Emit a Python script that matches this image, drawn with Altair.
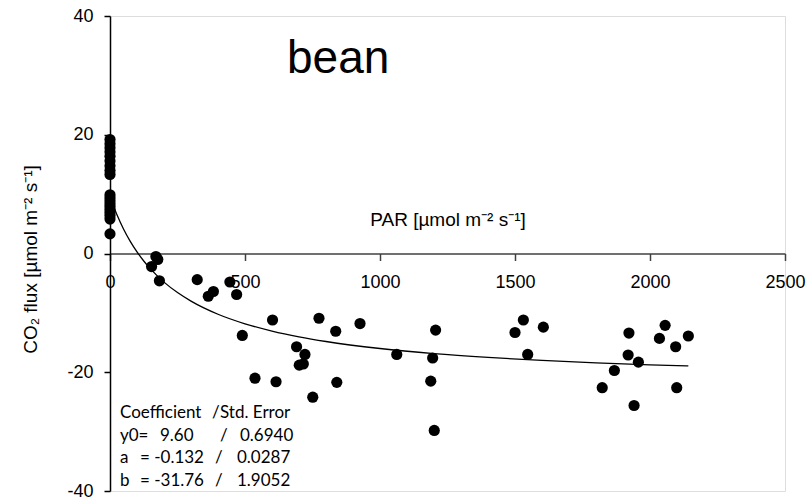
import altair as alt
import pandas as pd

# ---- data ----
par = [0] * 19 + [
    154, 170, 177, 183, 323, 364, 383, 444, 469, 490, 537, 602, 615, 691, 701,
    716, 722, 751, 774, 836, 840, 926, 1062, 1188, 1195, 1201, 1206, 1500, 1531,
    1547, 1605, 1823, 1868, 1919, 1922, 1941, 1957, 2035, 2056, 2095, 2099, 2142,
]
flux = [
    19.2, 18.5, 17.8, 17.1, 16.4, 15.6, 14.8, 14.0, 13.3,
    9.9, 9.4, 8.9, 8.4, 7.9, 7.4, 6.9, 6.4, 5.8, 3.3,
    -2.2, -0.5, -1.0, -4.6, -4.4, -7.2, -6.4, -4.8, -6.9, -13.8, -21.0, -11.2,
    -21.6, -15.7, -18.8, -18.6, -17.0, -24.2, -10.9, -13.1, -21.7, -11.8, -17.0,
    -21.5, -17.6, -29.8, -12.9, -13.3, -11.2, -17.0, -12.4, -22.6, -19.7, -17.1,
    -13.4, -25.6, -18.3, -14.3, -12.1, -15.7, -22.6, -13.9,
]
curve_par = [0, 10, 25, 50, 75, 100, 125, 150, 200, 250, 300, 400, 500, 600,
             700, 800, 1000, 1200, 1400, 1600, 1800, 2000, 2142]
curve_flux = [9.6, 8.33, 6.61, 4.14, 2.05, 0.28, -1.26, -2.60, -4.82, -6.58,
              -8.02, -10.23, -11.84, -13.07, -14.04, -14.82, -16.00, -16.86,
              -17.50, -18.01, -18.42, -18.75, -18.94]
x_ticks = [0, 500, 1000, 1500, 2000, 2500]
y_ticks = [-40, -20, 0, 20, 40]
panel_title = "bean"
x_title = "PAR [µmol m⁻² s⁻¹]"
y_title = "CO₂ flux [µmol m⁻² s⁻¹]"
coef_texts = ["Coefficient", "/", "Std. Error",
              "y0=", "9.60", "/", "0.6940",
              "a", "= -0.132", "/", "0.0287",
              "b", "= -31.76", "/", "1.9052"]

# ---- layout (pixels, relative to plot area) ----
W, H = 675, 475
coef_pos = [(10, 402), (102, 402), (110, 402),
            (10, 425), (50, 425), (110, 425), (130, 425),
            (10, 447), (30, 447), (105, 447), (127, 447),
            (10, 470), (30, 470), (105, 470), (127, 470)]

pts = pd.DataFrame({"par": par, "flux": flux})
crv = pd.DataFrame({"par": curve_par, "flux": curve_flux})
one = pd.DataFrame({"k": [0]})

FONT = "Liberation Sans"
xenc = alt.X(
    "par:Q",
    scale=alt.Scale(domain=[0, 2500], nice=False, zero=False),
    axis=alt.Axis(
        values=x_ticks, offset=-H / 2, grid=False,
        domainColor="#404040", domainWidth=1.5, tickColor="#404040",
        tickWidth=1.5, tickSize=7, labelFontSize=18, labelFont=FONT,
        labelColor="black", labelPadding=13, labelFlush=False,
        labelOverlap=False, labelBound=False,
        labelExpr="'' + datum.value",
        title=x_title, titleX=337.5, titleY=-28.5, titleBaseline="alphabetic",
        titleAlign="center", titleFontSize=19, titleFontWeight="normal",
        titleFont=FONT, titleColor="black",
    ),
)
yenc = alt.Y(
    "flux:Q",
    scale=alt.Scale(domain=[-40, 40], nice=False, zero=False),
    axis=alt.Axis(
        values=y_ticks, grid=False, domainColor="black", domainWidth=1.5,
        tickColor="black", tickWidth=1.5, tickSize=6, labelFontSize=18,
        labelFont=FONT, labelColor="black", labelPadding=11,
        labelOverlap=False, labelFlush=False, labelExpr="'' + datum.value",
        title=y_title, titleX=-80, titleY=243, titleAngle=270,
        titleBaseline="middle", titleAlign="center", titleFontSize=19,
        titleFontWeight="normal", titleFont=FONT, titleColor="black",
    ),
)

line = alt.Chart(crv).mark_line(color="black", strokeWidth=1.3,
                                interpolate="monotone").encode(x=xenc, y=yenc)
dots = alt.Chart(pts).mark_circle(size=125, color="black", opacity=1).encode(
    x="par:Q", y="flux:Q")

layers = [line, dots]
layers.append(
    alt.Chart(one).mark_text(text=panel_title, fontSize=46, font=FONT,
                             align="left", baseline="alphabetic",
                             color="black").encode(x=alt.value(177), y=alt.value(57))
)
for t, (px, py) in zip(coef_texts, coef_pos):
    layers.append(
        alt.Chart(one).mark_text(text=t, fontSize=17, font="Lato", align="left",
                                 baseline="alphabetic", color="black")
        .encode(x=alt.value(px), y=alt.value(py))
    )

chart = alt.layer(*layers).properties(
    width=W, height=H,
    autosize=alt.AutoSizeParams(type="none"),
    padding={"left": 110, "top": 16, "right": 25, "bottom": 6},
).configure_view(stroke=None).configure(background="white")

chart.save("out.html", embed_options={"renderer": "svg", "actions": False})
